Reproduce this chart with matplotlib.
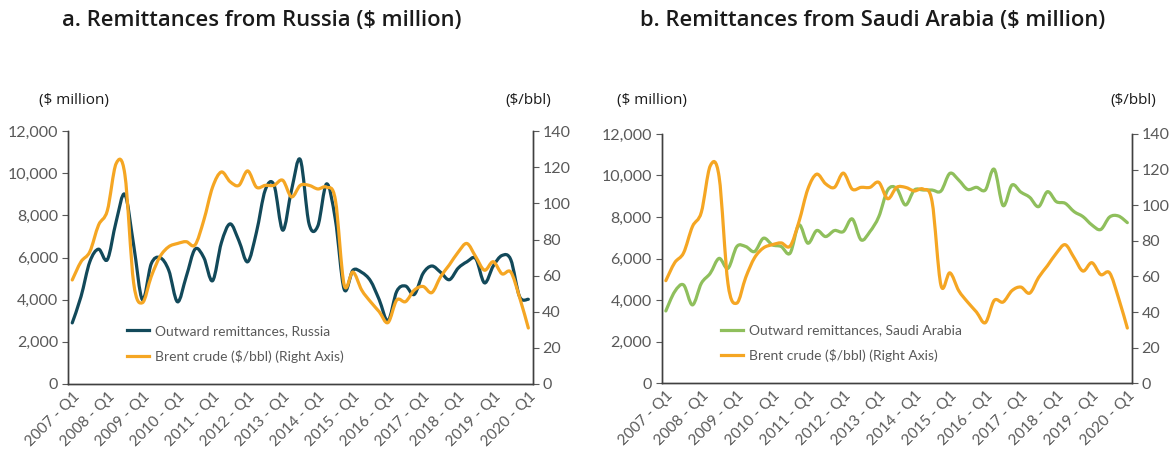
import numpy as np
import matplotlib
matplotlib.use('Agg')
import matplotlib.pyplot as plt
from matplotlib.path import Path
from matplotlib.patches import PathPatch
from matplotlib.ticker import FuncFormatter
from matplotlib.lines import Line2D

plt.rcParams['font.family'] = ['Lato', 'DejaVu Sans']

# quarters 2007 Q1 .. 2020 Q1
quarters = [f'{y} - Q{q}' for y in range(2007, 2021) for q in range(1, 5)][:53]

russia = [2900, 4150, 5800, 6400, 5900, 7700, 9000, 6600, 4000, 5700,
          6000, 5400, 3900, 5100, 6400, 6000, 4900, 6700, 7600, 6800,
          5800, 7200, 9200, 9450, 7300, 9200, 10650, 7600, 7500, 9500,
          7800, 4500, 5400, 5300, 4900, 4000, 3000, 4400, 4650, 4250,
          5250, 5600, 5300, 4950, 5500, 5800, 5950, 4800, 5600, 6100,
          5900, 4150, 4020]

saudi = [3480, 4410, 4730, 3770, 4810, 5290, 6010, 5530, 6580, 6580,
         6340, 6980, 6660, 6580, 6260, 7620, 6740, 7350, 7060, 7350,
         7300, 7910, 6900, 7300, 8020, 9300, 9380, 8580, 9300, 9300,
         9300, 9250, 10100, 9780, 9330, 9430, 9300, 10300, 8550, 9540,
         9200, 8950, 8500, 9220, 8740, 8660, 8260, 8020, 7620, 7400,
         8000, 8050, 7730]

brent = [57.6, 67.7, 73.2, 88, 96, 122, 116, 56, 45, 59.4,
         70.5, 76, 77.8, 78.8, 77, 90.7, 109, 117.4, 112, 110,
         118, 109, 110, 110, 112.8, 103.6, 110, 110, 108, 109,
         102, 55, 62, 52, 45.6, 40, 34, 46.5, 45.6, 52,
         54, 50.6, 59.4, 66, 73, 77.8, 70.5, 63, 67.7, 61,
         62, 48, 31]

C_RUS = '#12495a'
C_SAU = '#8fbf5c'
C_BRENT = '#f5a623'
GREY = '#595959'


def smooth_line(ax, y, color, lw=2.3):
    # Excel-style smoothed line: cubic bezier through every data point
    x = np.arange(len(y), dtype=float)
    y = np.asarray(y, dtype=float)
    pts = np.column_stack([x, y])
    verts = [pts[0]]
    codes = [Path.MOVETO]
    n = len(pts)
    for i in range(n - 1):
        p0 = pts[max(i - 1, 0)]
        p1 = pts[i]
        p2 = pts[i + 1]
        p3 = pts[min(i + 2, n - 1)]
        c1 = p1 + (p2 - p0) / 6.0
        c2 = p2 - (p3 - p1) / 6.0
        verts += [c1, c2, p2]
        codes += [Path.CURVE4] * 3
    patch = PathPatch(Path(verts, codes), facecolor='none', edgecolor=color,
                      lw=lw, capstyle='round', joinstyle='round')
    ax.add_patch(patch)


def panel(rect, remit, color, label, title, title_x, unit_lx, unit_rx):
    ax = fig.add_axes(rect)
    ax2 = ax.twinx()
    smooth_line(ax, remit, color)
    smooth_line(ax2, brent, C_BRENT)
    ax.set_xlim(-0.48, len(quarters) - 0.52)
    ax.set_ylim(0, 12000)
    ax2.set_ylim(0, 140)
    ax.set_yticks(range(0, 12001, 2000))
    ax2.set_yticks(range(0, 141, 20))
    ax.yaxis.set_major_formatter(FuncFormatter(lambda v, p: f'{int(v):,}'))
    ax.set_xticks(range(0, len(quarters), 4))
    ax.set_xticklabels(quarters[::4], rotation=45, ha='right',
                       rotation_mode='anchor')
    for a in (ax, ax2):
        a.spines['top'].set_visible(False)
        for s in ('left', 'right', 'bottom'):
            a.spines[s].set_color('#404040')
            a.spines[s].set_linewidth(1.0)
        a.tick_params(colors=GREY, labelsize=11.5, length=4, width=0.8)
    ax.tick_params(axis='x', length=0, pad=4, labelsize=11)
    ax.tick_params(axis='y', pad=3)
    ax2.tick_params(axis='y', pad=3)
    for t in ax.get_yticklabels() + ax2.get_yticklabels() + ax.get_xticklabels():
        t.set_color(GREY)

    handles = [Line2D([], [], color=color, lw=2.3),
               Line2D([], [], color=C_BRENT, lw=2.3)]
    leg = ax.legend(handles, [label, 'Brent crude ($/bbl) (Right Axis)'],
                    loc='lower left', bbox_to_anchor=(0.1, 0.035),
                    frameon=False, fontsize=10, handlelength=1.6,
                    handletextpad=0.4, labelspacing=0.9)
    for t in leg.get_texts():
        t.set_color(GREY)

    fig.text(title_x, 0.955, title, fontsize=15.8, fontweight='semibold',
             family=['Open Sans', 'DejaVu Sans'],
             color='#1a1a1a', va='center', ha='left')
    fig.text(unit_lx, 0.78, '($ million)', fontsize=11,
             family=['Open Sans', 'DejaVu Sans'], color='#1a1a1a',
             va='center', ha='center')
    fig.text(unit_rx, 0.78, '($/bbl)', fontsize=11,
             family=['Open Sans', 'DejaVu Sans'], color='#1a1a1a',
             va='center', ha='center')
    return ax


fig = plt.figure(figsize=(11.73, 4.58), dpi=100)
panel([0.058, 0.1616, 0.396, 0.552], russia, C_RUS,
      'Outward remittances, Russia',
      'a. Remittances from Russia ($ million)', 0.053, 0.063, 0.450)
panel([0.564, 0.1632, 0.4007, 0.5444], saudi, C_SAU,
      'Outward remittances, Saudi Arabia',
      'b. Remittances from Saudi Arabia ($ million)', 0.546, 0.556, 0.966)

fig.savefig('out.png', dpi=100)
